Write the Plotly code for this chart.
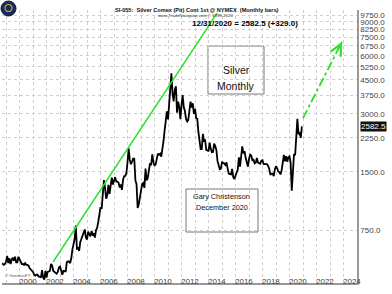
import math
import plotly.graph_objects as go

# ---------------- data ----------------
START_YEAR = 1998
START_MONTH = 9
# monthly closes (cents/oz), Sep 1998 .. Dec 2020
MONTHLY_CLOSE = [
    505, 500, 495, 500,                                              # 1998 Sep-Dec
    515, 550, 505, 535, 500, 525, 540, 520, 545, 510, 510, 545,      # 1999
    525, 510, 500, 500, 495, 505, 495, 495, 490, 475, 470, 460,      # 2000
    455, 440, 435, 440, 440, 430, 430, 425, 465, 425, 415, 460,      # 2001
    425, 455, 460, 460, 500, 490, 460, 455, 455, 445, 455, 480,      # 2002
    485, 460, 440, 460, 460, 455, 510, 515, 515, 505, 535, 595,      # 2003
    630, 675, 790, 600, 605, 585, 650, 680, 695, 730, 755, 685,      # 2004
    670, 735, 715, 695, 740, 710, 720, 685, 750, 770, 830, 885,      # 2005
    985, 965, 1155, 1360, 1240, 1090, 1135, 1285, 1155, 1260, 1400, 1290,  # 2006
    1345, 1410, 1335, 1335, 1320, 1245, 1290, 1210, 1365, 1425, 1430, 1480,  # 2007
    1685, 1985, 1735, 1645, 1690, 1755, 1755, 1355, 1295, 975, 1020, 1130,   # 2008
    1250, 1300, 1315, 1240, 1560, 1355, 1395, 1495, 1665, 1625, 1850, 1685,  # 2009
    1615, 1640, 1755, 1865, 1840, 1865, 1800, 1935, 2175, 2470, 2820, 3090,  # 2010
    2805, 3400, 3785, 4860, 3825, 3480, 4005, 4160, 3040, 3470, 3255, 2815,  # 2011
    3325, 3755, 3245, 3100, 2820, 2740, 2790, 3125, 3465, 3230, 3400, 3000,  # 2012
    3185, 2850, 2830, 2415, 2225, 1970, 1970, 2360, 2170, 2185, 1950, 1945,  # 2013
    1915, 2125, 1975, 1900, 1905, 2105, 2040, 1945, 1705, 1620, 1550, 1560,  # 2014
    1695, 1665, 1660, 1630, 1680, 1560, 1470, 1460, 1455, 1555, 1410, 1380,  # 2015
    1420, 1490, 1540, 1785, 1595, 1875, 2035, 1870, 1920, 1775, 1655, 1600,  # 2016
    1750, 1845, 1825, 1725, 1735, 1660, 1675, 1770, 1675, 1670, 1655, 1715,  # 2017
    1725, 1645, 1640, 1635, 1645, 1610, 1555, 1450, 1470, 1470, 1425, 1550,  # 2018
    1605, 1565, 1510, 1495, 1455, 1530, 1640, 1840, 1700, 1810, 1695, 1785,  # 2019
    1805, 1670, 1200, 1505, 1855, 1830, 2425, 2830, 2350, 2380, 2253.5, 2582.5,  # 2020
]

TREND_X = [2002.48, 2014.63]          # solid green trend line
TREND_Y = [512, 9980]
PROJ_X = [2021.0, 2023.89]            # dashed projection
PROJ_Y = [2852, 7080]

Y_TICKS = [750, 1500, 2250, 3000, 3750, 4500, 5250, 6000, 6750, 7500, 8250, 9000, 9750]
X_LABEL_YEARS = list(range(2000, 2025, 2))
GRID_YEARS = list(range(1999, 2025))

LAST_VALUE = 2582.5
TITLE = "SI-055:  Silver Comex (Pit) Cont 1st @ NYMEX  (Monthly bars)"
SUBTITLE = "www.TradeNavigator.com \u00a9 1999-2020"
LAST_TEXT = "12/31/2020 = 2582.5 (+329.0)"

# ---------------- build ----------------
dates = []
for i in range(len(MONTHLY_CLOSE)):
    k = (START_MONTH - 1) + i
    dates.append(START_YEAR + k // 12 + (k % 12) / 12.0)

W, H = 392, 294
L, R, T, B = 2, 35, 10, 11
PW, PH = W - L - R, H - T - B
FONT = "Liberation Sans"


def px(x):
    return (x - L) / PW


def py(y):
    return (H - B - y) / PH


fig = go.Figure()
fig.add_trace(go.Scatter(x=dates, y=MONTHLY_CLOSE, mode="lines",
                         line=dict(color="black", width=1.8), hoverinfo="skip"))
fig.add_trace(go.Scatter(x=TREND_X, y=TREND_Y, mode="lines",
                         line=dict(color="#2ee02e", width=1.5), hoverinfo="skip"))
fig.add_trace(go.Scatter(x=PROJ_X, y=PROJ_Y, mode="lines",
                         line=dict(color="#2ee02e", width=1.8, dash="dashdot"), hoverinfo="skip"))

ann = []
# arrow head for projection (pixel offset tail along the line direction)
ann.append(dict(x=PROJ_X[1], y=math.log10(PROJ_Y[1]), xref="x", yref="y",
                ax=-5.5, ay=10.7, showarrow=True, arrowhead=5, arrowsize=1.4, arrowwidth=1.6,
                arrowcolor="#2ee02e", text=""))
ann.append(dict(x=px(196), y=py(4.5), xref="paper", yref="paper", text="<b>" + TITLE + "</b>",
                showarrow=False, font=dict(size=5.6, color="#111", family=FONT)))
ann.append(dict(x=px(196), y=py(11.5), xref="paper", yref="paper", text=SUBTITLE,
                showarrow=False, font=dict(size=4.3, color="#333", family=FONT)))
ann.append(dict(x=px(300), y=py(17), xref="paper", yref="paper", text="<b>" + LAST_TEXT + "</b>",
                showarrow=False, font=dict(size=8, color="#000", family=FONT)))
ann.append(dict(x=px(236), y=py(62), xref="paper", yref="paper", text="Silver",
                showarrow=False, font=dict(size=10.5, color="#111", family=FONT)))
ann.append(dict(x=px(236), y=py(78), xref="paper", yref="paper", text="Monthly",
                showarrow=False, font=dict(size=10.5, color="#111", family=FONT)))
ann.append(dict(x=px(222), y=py(203), xref="paper", yref="paper", text="Gary Christenson",
                showarrow=False, font=dict(size=7.3, color="#111", family=FONT)))
ann.append(dict(x=px(222), y=py(214), xref="paper", yref="paper", text="December 2020",
                showarrow=False, font=dict(size=7.3, color="#111", family=FONT)))
ann.append(dict(x=px(3), y=py(280), xref="paper", yref="paper", text="\u00a9 GenesisFT",
                xanchor="left", showarrow=False, font=dict(size=4.3, color="#555", family=FONT)))
ann.append(dict(x=1, y=math.log10(LAST_VALUE), xref="paper", yref="y", text="%.1f" % LAST_VALUE,
                xanchor="left", xshift=3, showarrow=False, bgcolor="#111", borderpad=0,
                font=dict(size=8, color="white", family=FONT)))
# year labels (placed just to the right of each year's gridline, as in the reference)
for yr in X_LABEL_YEARS:
    ann.append(dict(x=yr + 0.63, y=py(288), xref="x", yref="paper", text=str(yr),
                    showarrow=False, font=dict(size=8, color="#444", family=FONT)))

shapes = [
    dict(type="rect", xref="paper", yref="paper", x0=px(208), x1=px(264), y0=py(46), y1=py(94),
         line=dict(color="#777", width=1), fillcolor="white", layer="below"),
    dict(type="rect", xref="paper", yref="paper", x0=px(186), x1=px(258), y0=py(189), y1=py(232),
         line=dict(color="#777", width=1), fillcolor="white", layer="below"),
    dict(type="circle", xref="paper", yref="paper", x0=px(1), x1=px(16), y0=py(1), y1=py(16),
         line=dict(color="#0e1a45", width=1), fillcolor="#1b2a5c"),
    dict(type="circle", xref="paper", yref="paper", x0=px(5), x1=px(12), y0=py(4.5), y1=py(11.5),
         line=dict(color="#c9a640", width=1.2), fillcolor="#1b2a5c"),
]

fig.update_layout(
    width=W, height=H, margin=dict(l=L, r=R, t=T, b=B, autoexpand=False),
    paper_bgcolor="white", plot_bgcolor="white", showlegend=False,
    annotations=ann, shapes=shapes,
    font=dict(family=FONT, color="#444"),
    xaxis=dict(range=[1998.7, 2025.0], tickmode="array",
               tickvals=[y + 0.63 for y in X_LABEL_YEARS], ticktext=[str(y) for y in X_LABEL_YEARS],
               showticklabels=False,
               showgrid=False, zeroline=False, ticks="",
               showline=True, linecolor="#999", linewidth=1.5,
               minor=dict(tickmode="array", tickvals=GRID_YEARS, showgrid=True,
                          gridcolor="#cfcfcf", griddash="dot", gridwidth=1, ticks="")),
    yaxis=dict(type="log", range=[2.6005, 4.015], side="right", tickmode="array",
               tickvals=Y_TICKS, ticktext=["%.1f" % v for v in Y_TICKS],
               showgrid=True, gridcolor="#cfcfcf", griddash="dot", gridwidth=1,
               zeroline=False, ticks="", tickfont=dict(size=8, color="#444"),
               showline=True, linecolor="#999", linewidth=1.5),
)

fig.write_html("out.html")
